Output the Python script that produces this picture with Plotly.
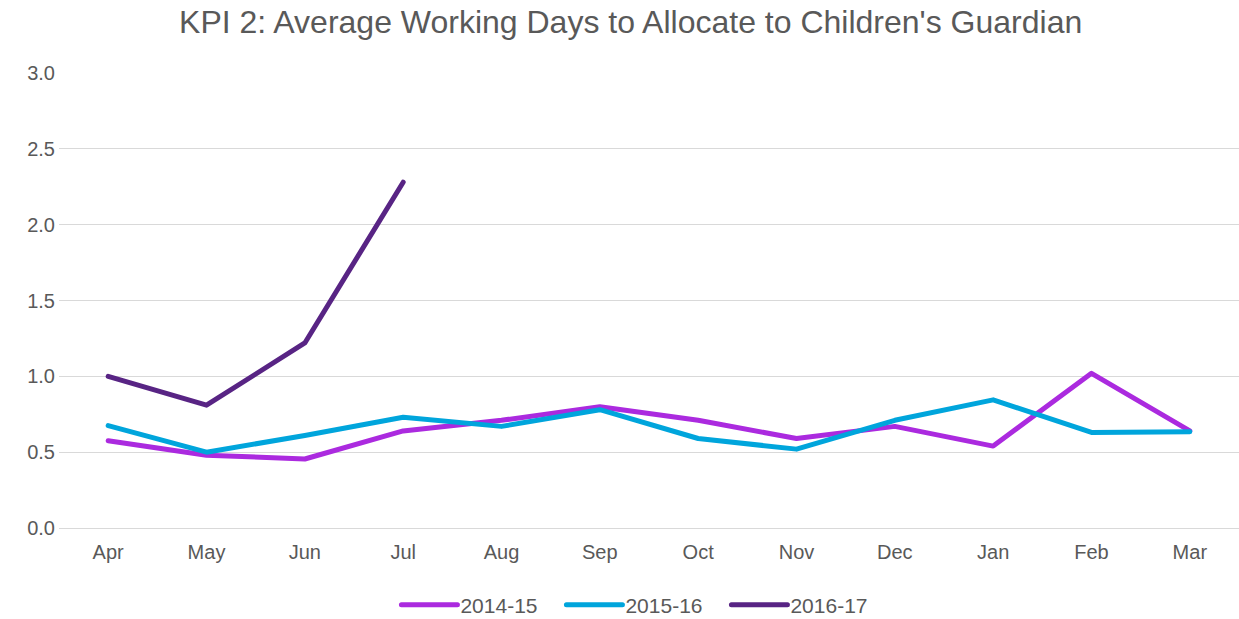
import plotly.graph_objects as go

months = ["Apr", "May", "Jun", "Jul", "Aug", "Sep", "Oct", "Nov", "Dec", "Jan", "Feb", "Mar"]
s2014_15 = [0.575, 0.48, 0.455, 0.64, 0.71, 0.80, 0.71, 0.59, 0.67, 0.54, 1.02, 0.64]
s2015_16 = [0.675, 0.50, 0.61, 0.73, 0.67, 0.78, 0.59, 0.52, 0.71, 0.845, 0.63, 0.635]
s2016_17 = [1.0, 0.81, 1.22, 2.28]
y_ticks = [0, 0.5, 1.0, 1.5, 2.0, 2.5, 3.0]

series = [
    ("2014-15", s2014_15, "#AB2ADF"),
    ("2015-16", s2015_16, "#00A5DC"),
    ("2016-17", s2016_17, "#582484"),
]

fig = go.Figure()
for name, vals, color in series:
    fig.add_trace(go.Scatter(
        x=months[:len(vals)], y=vals, name=name, mode="lines",
        line=dict(color=color, width=5),
    ))

font_family = "Liberation Sans, Arial, sans-serif"
fig.update_layout(
    width=1239, height=619,
    margin=dict(l=59, r=0, t=73, b=91, autoexpand=False),
    paper_bgcolor="white", plot_bgcolor="white",
    font=dict(family=font_family, color="#595959", size=20),
    title=dict(text="KPI 2: Average Working Days to Allocate to Children's Guardian",
               x=0.509, xanchor="center", y=0.964, yanchor="middle",
               font=dict(size=32, color="#595959")),
    xaxis=dict(categoryorder="array", categoryarray=months, range=[-0.5, 11.5],
               showgrid=False, showline=False, ticks="", tickfont=dict(size=20),
               ticklabelstandoff=10),
    yaxis=dict(range=[0, 3], tickvals=y_ticks, tickformat=".1f",
               showgrid=True, gridcolor="#D9D9D9", gridwidth=1.3,
               zeroline=True, zerolinecolor="#D9D9D9", zerolinewidth=1.3,
               showline=False, ticks="", ticklen=0, tickfont=dict(size=20),
               ticklabelstandoff=3),
    legend=dict(orientation="h", x=0.494, xanchor="center",
                yref="container", y=1 - 605 / 619, yanchor="middle",
                font=dict(size=21), itemwidth=56, entrywidth=94, traceorder="normal"),
    showlegend=True,
)

post = """
document.body.style.margin = '0';
document.querySelectorAll('.legendlines path').forEach(function(p){
  p.setAttribute('d', 'M7,0h56');
  p.style.strokeLinecap = 'round';
});
document.querySelectorAll('.scatterlayer .js-line').forEach(function(p){
  p.style.strokeLinejoin = 'round';
  p.style.strokeLinecap = 'round';
});
"""
fig.write_html("out.html", post_script=post, config={"displayModeBar": False})
